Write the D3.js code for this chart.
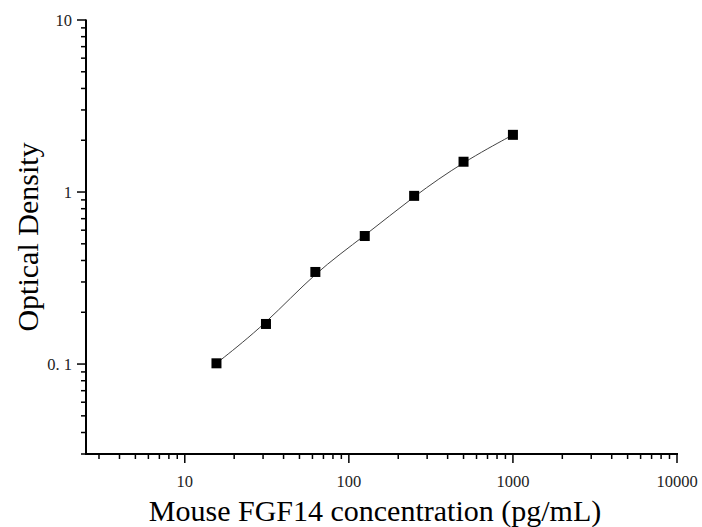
<!DOCTYPE html>
<html>
<head>
<meta charset="utf-8">
<script src="https://cdn.jsdelivr.net/npm/d3@7"></script>
<style>
  body { margin: 0; background: #fff; }
  svg { font-family: "Liberation Serif", "Times New Roman", serif; }
</style>
</head>
<body>
<figure style="margin:0"></figure>
<script>
// standard curve points
const concentration = [15.6, 31.25, 62.5, 125, 250, 500, 1000];
const opticalDensity = [0.101, 0.171, 0.343, 0.555, 0.95, 1.5, 2.15];

const xTickValues = [10, 100, 1000, 10000];
const xTickLabels = ["10", "100", "1000", "10000"];
const yTickValues = [0.1, 1, 10];
const yTickLabels = ["0. 1", "1", "10"];

const width = 702;
const height = 527;
const margin = { top: 20, right: 25, bottom: 73, left: 86 };

const svg = d3.select("figure").append("svg")
  .attr("width", width)
  .attr("height", height);

const x = d3.scaleLog()
  .domain([2.5, 10000])
  .range([margin.left, width - margin.right]);

const y = d3.scaleLog()
  .domain([0.03, 10])
  .range([height - margin.bottom, margin.top]);

// minor ticks for each decade
const minorX = [];
for (let p = 0; p <= 3; p++) {
  for (let m = 2; m <= 9; m++) {
    const v = m * Math.pow(10, p);
    if (v >= 2.5 && v < 10000) minorX.push(v);
  }
}
const minorY = [];
for (let p = -2; p <= 0; p++) {
  for (let m = 2; m <= 9; m++) {
    const v = m * Math.pow(10, p);
    if (v >= 0.03 && v < 10) minorY.push(v);
  }
}

const xAxis = svg.append("g")
  .attr("transform", `translate(0, ${height - margin.bottom})`);

xAxis.append("line")
  .attr("x1", margin.left - 0.5).attr("x2", width - margin.right + 1)
  .attr("stroke", "#000").attr("stroke-width", 2);

xAxis.selectAll("line.minor")
  .data(minorX)
  .enter().append("line")
  .attr("class", "minor")
  .attr("x1", (d) => x(d)).attr("x2", (d) => x(d))
  .attr("y1", 0).attr("y2", 5)
  .attr("stroke", "#000").attr("stroke-width", 1.5);

xAxis.selectAll("line.major")
  .data(xTickValues)
  .enter().append("line")
  .attr("class", "major")
  .attr("x1", (d) => x(d)).attr("x2", (d) => x(d))
  .attr("y1", 0).attr("y2", 9)
  .attr("stroke", "#000").attr("stroke-width", 1.5);

xAxis.selectAll("text")
  .data(xTickValues)
  .enter().append("text")
  .attr("x", (d) => x(d))
  .attr("y", 33)
  .attr("text-anchor", "middle")
  .style("font-size", "16.5px")
  .style("fill", "#222")
  .text((d, i) => xTickLabels[i]);

const yAxis = svg.append("g")
  .attr("transform", `translate(${margin.left}, 0)`);

yAxis.append("line")
  .attr("y1", margin.top - 0.5).attr("y2", height - margin.bottom + 1)
  .attr("stroke", "#000").attr("stroke-width", 2);

yAxis.selectAll("line.minor")
  .data(minorY)
  .enter().append("line")
  .attr("class", "minor")
  .attr("y1", (d) => y(d)).attr("y2", (d) => y(d))
  .attr("x1", 0).attr("x2", -5)
  .attr("stroke", "#000").attr("stroke-width", 1.5);

yAxis.selectAll("line.major")
  .data(yTickValues)
  .enter().append("line")
  .attr("class", "major")
  .attr("y1", (d) => y(d)).attr("y2", (d) => y(d))
  .attr("x1", 0).attr("x2", -9)
  .attr("stroke", "#000").attr("stroke-width", 1.5);

yAxis.selectAll("text")
  .data(yTickValues)
  .enter().append("text")
  .attr("x", -14)
  .attr("y", (d) => y(d) + 6)
  .attr("text-anchor", "end")
  .style("font-size", "16.5px")
  .style("fill", "#222")
  .text((d, i) => yTickLabels[i]);

// smoothed standard curve
const points = concentration.map((c, i) => [c, opticalDensity[i]]);
const line = d3.line()
  .x((d) => x(d[0]))
  .y((d) => y(d[1]))
  .curve(d3.curveBasis);

svg.append("path")
  .datum(points)
  .attr("d", line)
  .attr("fill", "none")
  .attr("stroke", "#444")
  .attr("stroke-width", 1);

svg.selectAll("rect.pt")
  .data(points)
  .enter().append("rect")
  .attr("class", "pt")
  .attr("x", (d) => x(d[0]) - 5)
  .attr("y", (d) => y(d[1]) - 5)
  .attr("width", 10)
  .attr("height", 10)
  .attr("fill", "#000");

// axis titles
svg.append("text")
  .attr("x", 375)
  .attr("y", 521)
  .attr("text-anchor", "middle")
  .style("font-size", "30px")
  .text("Mouse FGF14 concentration (pg/mL)");

svg.append("text")
  .attr("transform", "translate(38, 237) rotate(-90)")
  .attr("text-anchor", "middle")
  .style("font-size", "30px")
  .text("Optical Density");
</script>
</body>
</html>
